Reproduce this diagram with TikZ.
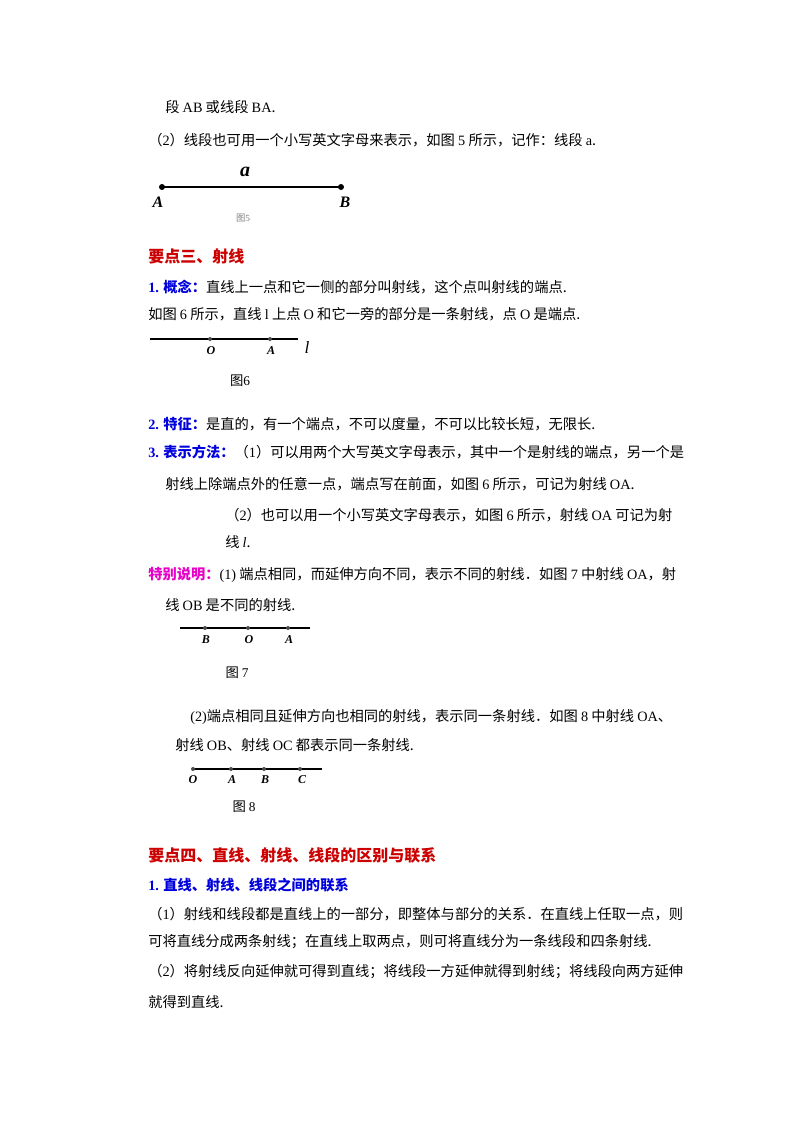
\documentclass[tikz,border=0pt]{standalone}
\usepackage{fontspec}
\setmainfont{Noto Sans CJK SC}
\newfontfamily\lat{Liberation Serif}
\newcommand{\e}[1]{{\lat #1}}
\definecolor{hred}{RGB}{204,0,0}
\definecolor{hblue}{RGB}{0,0,220}
\definecolor{hmag}{RGB}{230,0,200}
\begin{document}
\begin{tikzpicture}[x=0.75pt,y=-0.75pt,
  t/.style={anchor=west,inner sep=0pt,font=\fontsize{10.7}{12}\selectfont},
  h/.style={t,font=\fontsize{12}{14}\selectfont\bfseries,text=hred},
  dot/.style={circle,fill=black,inner sep=0pt,minimum size=3pt},
  sd/.style={dot,minimum size=3pt,fill=black!70},
  lab/.style={inner sep=0pt,font=\lat\itshape\bfseries\fontsize{9}{10}\selectfont},
  fcap/.style={inner sep=0pt,font=\fontsize{10}{12}\selectfont}]
\useasboundingbox (0,0) rectangle (800,1132);
\node[t] (l1) at (165,107) {段 \e{AB} 或线段 \e{BA}.};
\node[t] (l2) at (148,140) {（\e{2}）线段也可用一个小写英文字母来表示，如图 \e{5} 所示，记作：线段 \e{a}.};
% fig 5
\coordinate (pA5) at (162,187); \coordinate (pB5) at (341,187);
\draw[line width=1pt] (pA5) -- (pB5);
\node[dot,minimum size=4.5pt] (A5) at (pA5) {}; \node[dot,minimum size=4.5pt] (B5) at (pB5) {};
\node[lab,font=\lat\itshape\bfseries\fontsize{15}{15}\selectfont] (a5) at (245,172) {a};
\node[lab,font=\lat\itshape\bfseries\fontsize{12}{12}\selectfont] (A5l) at (158,202) {A};
\node[lab,font=\lat\itshape\bfseries\fontsize{12}{12}\selectfont] (B5l) at (345,202) {B};
\node[fcap,font=\fontsize{7}{8}\selectfont,text=gray] (c5) at (243,218) {图\e{5}};
\node[h] (h3) at (148,256) {要点三、射线};
\node[t] (l3) at (148,287) {\textcolor{hblue}{\bfseries\e{\textbf{1.}} 概念：}直线上一点和它一侧的部分叫射线，这个点叫射线的端点.};
\node[t] (l4) at (148,314) {如图 \e{6} 所示，直线 \e{l} 上点 \e{O} 和它一旁的部分是一条射线，点 \e{O} 是端点.};
% fig 6
\coordinate (s6) at (150,339); \coordinate (e6) at (298,339);
\draw[line width=0.8pt] (s6) -- (e6);
\node[sd] (O6) at (210,339) {}; \node[sd] (A6) at (270,339) {};
\node[lab] at (211,351) {O}; \node[lab] at (271,351) {A};
\node[lab,font=\lat\itshape\fontsize{13}{13}\selectfont] at (307,347) {l};
\node[fcap] (c6) at (240,381) {图\e{6}};
\node[t] (l5) at (148,424) {\textcolor{hblue}{\bfseries\e{\textbf{2.}} 特征：}是直的，有一个端点，不可以度量，不可以比较长短，无限长.};
\node[t] (l6) at (148,452) {\textcolor{hblue}{\bfseries\e{\textbf{3.}} 表示方法：}（\e{1}）可以用两个大写英文字母表示，其中一个是射线的端点，另一个是};
\node[t] (l7) at (165,484) {射线上除端点外的任意一点，端点写在前面，如图 \e{6} 所示，可记为射线 \e{OA}.};
\node[t] (l8) at (225,515) {（\e{2}）也可以用一个小写英文字母表示，如图 \e{6} 所示，射线 \e{OA} 可记为射};
\node[t] (l9) at (225,542) {线 \e{\itshape l}.};
\node[t] (l10) at (148,575) {\textcolor{hmag}{\bfseries 特别说明：}\e{(1)} 端点相同，而延伸方向不同，表示不同的射线．如图 \e{7} 中射线 \e{OA}，射};
\node[t] (l11) at (165,605) {线 \e{OB} 是不同的射线.};
% fig 7
\coordinate (s7) at (180,628); \coordinate (e7) at (310,628);
\draw[line width=0.8pt] (s7) -- (e7);
\node[sd] (B7) at (205,628) {}; \node[sd] (O7) at (248,628) {}; \node[sd] (A7) at (288,628) {};
\node[lab] at (206,640) {B}; \node[lab] at (249,640) {O}; \node[lab] at (289,640) {A};
\node[fcap] (c7) at (237,673) {图 \e{7}};
\node[t] (l12) at (190,717) {\e{(2)}端点相同且延伸方向也相同的射线，表示同一条射线．如图 \e{8} 中射线 \e{OA}、};
\node[t] (l13) at (175,745) {射线 \e{OB}、射线 \e{OC} 都表示同一条射线.};
% fig 8
\coordinate (s8) at (193,769); \coordinate (e8) at (322,769);
\draw[line width=0.8pt] (s8) -- (e8);
\node[sd] (O8) at (193,769) {}; \node[sd] (A8) at (231,769) {};
\node[sd] (B8) at (264,769) {}; \node[sd] (C8) at (300,769) {};
\node[lab] at (193,780) {O}; \node[lab] at (232,780) {A}; \node[lab] at (265,780) {B}; \node[lab] at (302,780) {C};
\node[fcap] (c8) at (244,807) {图 \e{8}};
\node[h] (h4) at (148,855) {要点四、直线、射线、线段的区别与联系};
\node[t,text=hblue,font=\fontsize{10.7}{12}\selectfont\bfseries] (l14) at (148,885) {\e{\textbf{1.}} 直线、射线、线段之间的联系};
\node[t] (l15) at (148,914) {（\e{1}）射线和线段都是直线上的一部分，即整体与部分的关系．在直线上任取一点，则};
\node[t] (l16) at (148,942) {可将直线分成两条射线；在直线上取两点，则可将直线分为一条线段和四条射线.};
\node[t] (l17) at (148,972) {（\e{2}）将射线反向延伸就可得到直线；将线段一方延伸就得到射线；将线段向两方延伸};
\node[t] (l18) at (148,1002) {就得到直线.};
\end{tikzpicture}
\end{document}
